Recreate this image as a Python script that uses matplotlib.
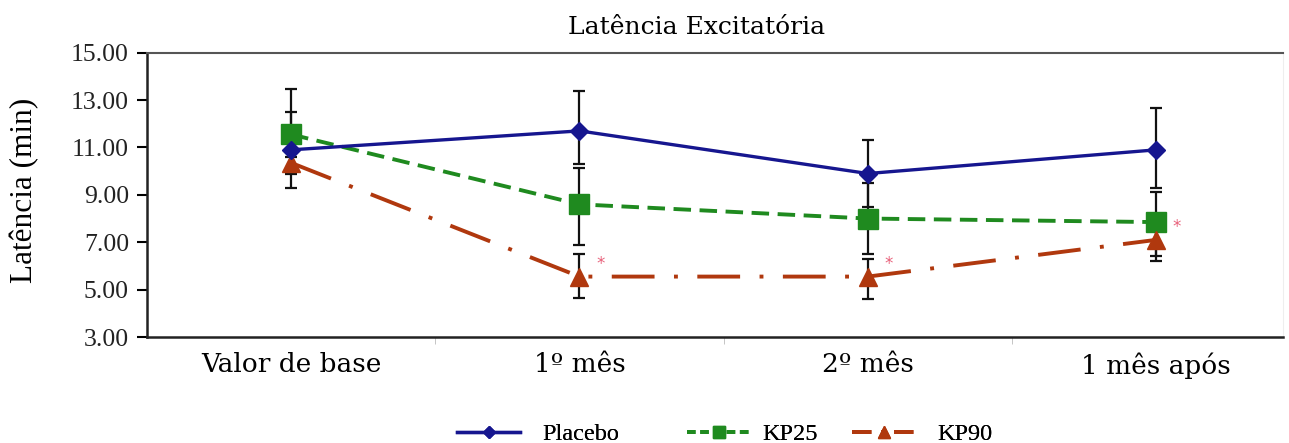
import matplotlib
matplotlib.use("Agg")
import matplotlib.pyplot as plt
from matplotlib.lines import Line2D
import numpy as np

categories = ["Valor de base", "1º mês", "2º mês", "1 mês após"]
placebo = [10.9, 11.7, 9.9, 10.9]
placebo_lo = [9.3, 10.3, 8.5, 9.3]
placebo_hi = [13.45, 13.4, 11.3, 12.65]
kp25 = [11.55, 8.6, 8.0, 7.85]
kp25_lo = [10.6, 6.9, 6.5, 6.4]
kp25_hi = [12.5, 10.15, 9.5, 9.1]
kp90 = [10.35, 5.55, 5.55, 7.1]
kp90_lo = [9.9, 4.65, 4.6, 6.2]
kp90_hi = [10.9, 6.5, 6.3, 8.0]
signif = [False, True, True, True]
series_names = ["Placebo", "KP25", "KP90"]
yticks = [3, 5, 7, 9, 11, 13, 15]

c_pl = "#16168f"
c_25 = "#1f8a1f"
c_90 = "#b0380e"

fig = plt.figure(figsize=(12.89, 4.43), dpi=100)
ax = fig.add_axes([147/1289, 1-337/443, (1283-147)/1289, (337-52.7)/443])
x = np.arange(len(categories))

def draw(vals, lo, hi, color, ls, marker, ms, lw, dashes=None, z=3):
    vals = np.array(vals); lo = np.array(lo); hi = np.array(hi)
    ax.errorbar(x, vals, yerr=[vals-lo, hi-vals], fmt='none', ecolor='#111111',
                elinewidth=1.6, capsize=4.5, capthick=1.6, zorder=2)
    kw = dict(color=color, lw=lw, marker=marker, ms=ms, mfc=color, mec=color, zorder=z)
    line, = ax.plot(x, vals, ls=ls, **kw)
    if dashes is not None:
        line.set_dashes(dashes)
    return line

draw(placebo, placebo_lo, placebo_hi, c_pl, '-', 'D', 9, 2.4, z=4)
draw(kp25, kp25_lo, kp25_hi, c_25, '--', 's', 14, 2.8, dashes=(4.5, 2.2), z=3)
draw(kp90, kp90_lo, kp90_hi, c_90, '-.', '^', 13, 2.8, dashes=(11, 5, 1, 5), z=3)

for xi, v, s in zip(x, kp90, signif):
    if s:
        ax.annotate("*", (xi, v), xytext=(15, 9), textcoords="offset points",
                    color="#e8607a", fontsize=12, ha="center", va="center",
                    family="DejaVu Sans")

ax.set_ylim(3, 15)
ax.set_xlim(-0.5, 3.44)
ax.set_yticks(yticks)
ax.set_yticklabels([f"{t:.2f}" for t in yticks], family="Liberation Serif", fontsize=18.5)
ax.set_xticks(x)
ax.set_xticklabels(categories, family="DejaVu Serif", fontsize=19)
ax.set_xticks([0.5, 1.5, 2.5], minor=True)
ax.tick_params(axis='x', which='major', length=0, pad=11)
ax.tick_params(axis='x', which='minor', length=5, color='#bbbbbb')
ax.tick_params(axis='y', length=7, width=1.5, pad=6, labelcolor="#222222")
for s in ["left", "bottom"]:
    ax.spines[s].set_linewidth(1.8)
    ax.spines[s].set_color("#222222")
ax.spines["top"].set_color("#555555")
ax.spines["top"].set_linewidth(1.5)
ax.spines["right"].set_color("#eeeeee")

fig.text(25/1289, 1-190/443, "Latência (min)", family="Liberation Serif", fontsize=22.5,
         rotation=90, ha="center", va="center")
fig.text(697/1289, 1-27/443, "Latência Excitatória", family="DejaVu Serif",
         fontsize=18, ha="center", va="center")

handles = [
    Line2D([], [], color=c_pl, lw=2.4, marker='D', ms=6),
    Line2D([], [], color=c_25, lw=2.8, ls='--', marker='s', ms=8, dashes=(2.2, 1.2)),
    Line2D([], [], color=c_90, lw=2.8, ls='-.', marker='^', ms=8, dashes=(5, 2.5, 0.8, 2.5)),
]
leg_x = [457, 687, 852]
pads = [0.9, 0.5, 0.9]
for h, name, lx, pd in zip(handles, series_names, leg_x, pads):
    lg = fig.legend([h], [name], loc="center left", bbox_to_anchor=(lx/1289, 1-434/443),
                    frameon=False, prop={"family": "Liberation Serif", "size": 17.5},
                    handlelength=2.6, handletextpad=pd, borderpad=0, borderaxespad=0)
    fig.add_artist(lg)

fig.savefig("out.png", dpi=100)
